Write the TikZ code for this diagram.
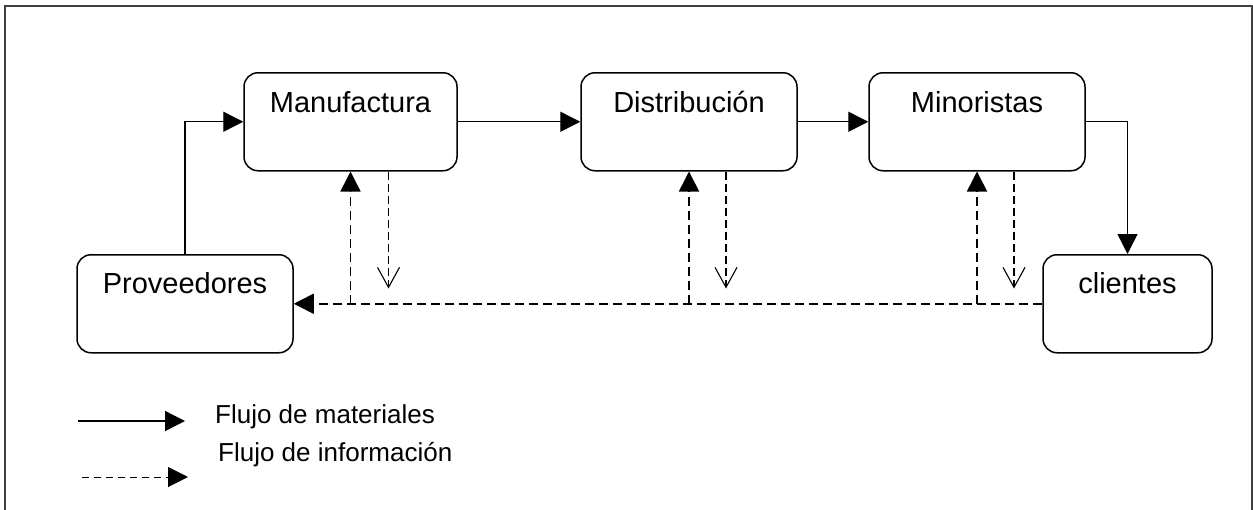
\documentclass[tikz,border=0pt]{standalone}
\usepackage{fontspec}
\setmainfont{Liberation Sans}
\usetikzlibrary{arrows.meta}
\begin{document}
\begin{tikzpicture}[x=1pt,y=-1pt,
  box/.style={draw, line width=1.5pt, rounded corners=14pt, inner sep=0pt,
    text height=40pt, text depth=58pt, font=\fontsize{29}{34}\selectfont, anchor=north},
  mat/.style={line width=1.4pt, -{Triangle[length=20pt,width=20pt]}},
  info/.style={line width=1.6pt, dash pattern=on 9pt off 5pt, -{Triangle[length=20pt,width=20pt]}},
  infodown/.style={line width=1.1pt, dash pattern=on 8pt off 4pt, -{Straight Barb[length=20pt,width=22pt,line width=1.1pt]}},
  legtext/.style={anchor=base west, inner sep=0pt, font=\fontsize{26}{31}\selectfont}
]
\useasboundingbox (0,0) rectangle (1253,509);
\fill[white] (0,0) rectangle (1253,509);
\draw[line width=1.5pt, black!75] (5,515) -- (5,6) -- (1252,6) -- (1252,515);

\node[box, minimum width=213pt] (manu) at (350.5,72) {Manufactura};
\node[box, minimum width=216pt] (dist) at (689,72) {Distribución};
\node[box, minimum width=216pt] (mino) at (977,72) {Minoristas};
\node[box, minimum width=216pt, text height=39pt, text depth=59pt] (prov) at (185,254) {Proveedores};
\node[box, minimum width=169pt, text height=39pt, text depth=59pt] (clie) at (1127.5,254) {clientes};

% material flow
\draw[mat] (prov.north) |- (manu.west);
\draw[mat] (manu.east) -- (dist.west);
\draw[mat] (dist.east) -- (mino.west);
\draw[mat] (mino.east) -| (clie.north);

% information flow
\draw[info] (clie.west) -- (prov.east);
\draw[info] (manu.south |- prov.east) -- (manu.south);
\draw[info] (dist.south |- prov.east) -- (dist.south);
\draw[info] (mino.south |- prov.east) -- (mino.south);
\draw[infodown] ([xshift=38pt]manu.south) -- ++(0,117);
\draw[infodown] ([xshift=37pt]dist.south) -- ++(0,117);
\draw[infodown] ([xshift=37pt]mino.south) -- ++(0,117);

% legend
\coordinate (l1a) at (78,421);
\coordinate (l1b) at (185,421);
\coordinate (l2a) at (82,477);
\coordinate (l2b) at (188,477);
\draw[mat] (l1a) -- (l1b);
\draw[line width=1pt, dash pattern=on 7pt off 5pt, -{Triangle[length=20pt,width=20pt]}] (l2a) -- (l2b);
\node[legtext] (t1) at (215,423) {Flujo de materiales};
\node[legtext] (t2) at (218,461) {Flujo de información};
\end{tikzpicture}
\end{document}
